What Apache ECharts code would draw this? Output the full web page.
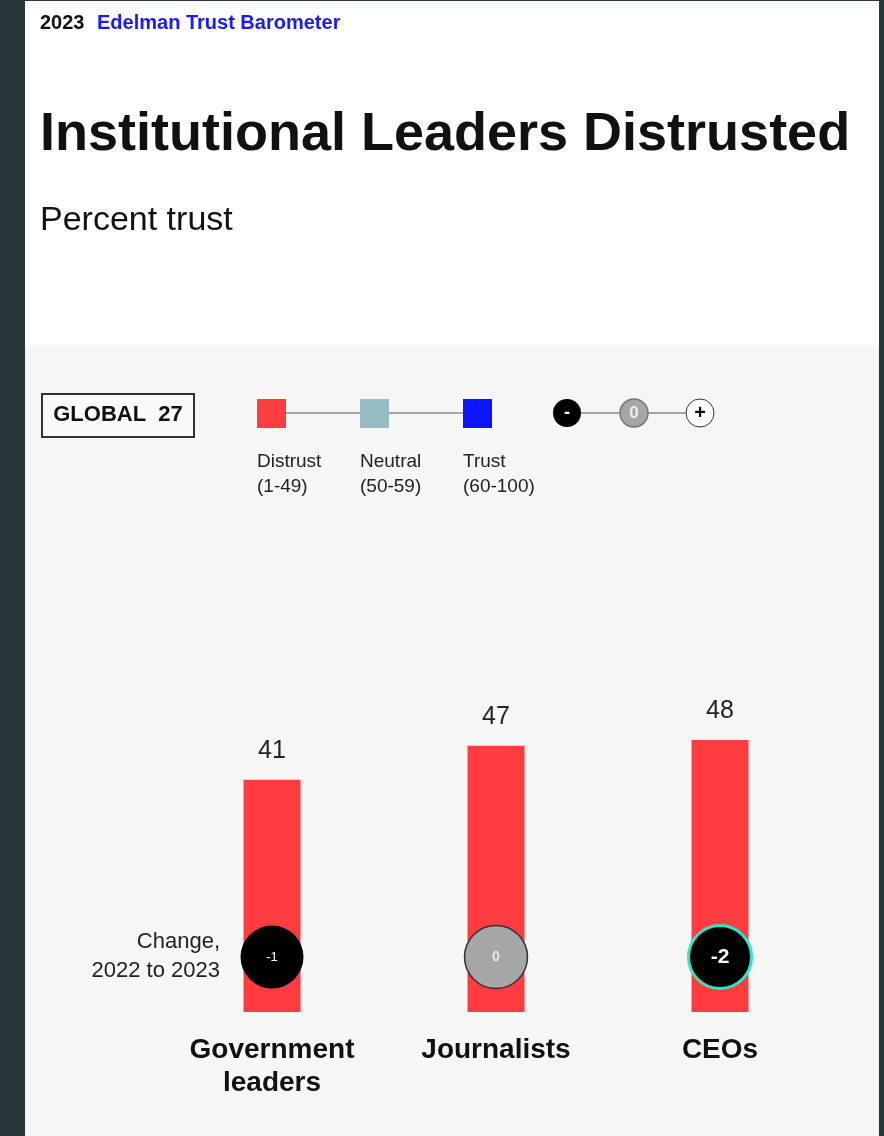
<!DOCTYPE html>
<html>
<head>
<meta charset="utf-8">
<title>Institutional Leaders Distrusted</title>
<script src="https://cdn.jsdelivr.net/npm/echarts@6/dist/echarts.min.js"></script>
<style>
  html, body { margin: 0; padding: 0; background: #273739; }
  #chart { width: 884px; height: 1136px; }
</style>
</head>
<body>
<div id="chart"></div>
<script type="text/javascript">
// data
var categories = ['Government\nleaders', 'Journalists', 'CEOs'];
var trustValues = [41, 47, 48];
var changeValues = [-1, 0, -2];
var legendNames = ['Distrust', 'Neutral', 'Trust'];
var legendRanges = ['(1-49)', '(50-59)', '(60-100)'];

var FONT = '"Liberation Sans", Arial, sans-serif';
var RED = '#ff3c40';
var CHANGE_ROW = 9.7;   // where the change circles sit on the value axis

var chart = echarts.init(document.getElementById('chart'));

// change circles: black = drop, grey = no change, teal ring marks the biggest drop
function changeItem(v, i) {
    var item = { value: [categories[i], CHANGE_ROW], change: v };
    if (v === 0) {
        item.itemStyle = { color: '#a6a6a6', borderColor: '#333', borderWidth: 1.5, opacity: 1 };
        item.label = { color: '#e6e6e6', fontSize: 14, fontWeight: 'bold' };
    } else if (v <= -2) {
        item.itemStyle = { color: '#000', borderColor: '#2ee6c4', borderWidth: 3, opacity: 1 };
        item.label = { color: '#fff', fontSize: 21, fontWeight: 'bold' };
    } else {
        item.itemStyle = { color: '#000', opacity: 1 };
        item.label = { color: '#fff', fontSize: 13 };
    }
    return item;
}

var legendColors = [RED, '#97bcc3', '#0a14ff'];
var legendX = [257, 360, 463];
var graphics = [
    // page backgrounds
    { type: 'rect', shape: { x: 25, y: 1, width: 854, height: 345 }, style: { fill: '#ffffff' }, silent: true, z: -10 },
    { type: 'rect', shape: { x: 25, y: 345, width: 854, height: 791 }, style: { fill: '#f6f6f6' }, silent: true, z: -10 },
    // header
    { type: 'text', left: 40, top: 13, style: { text: '2023', font: 'bold 20px ' + FONT, fill: '#111' } },
    { type: 'text', left: 97, top: 13, style: { text: 'Edelman Trust Barometer', font: 'bold 20px ' + FONT, fill: '#1a1aff' } },
    { type: 'text', left: 40, top: 108, style: { text: 'Institutional Leaders Distrusted', font: 'bold 54px ' + FONT, fill: '#111' } },
    { type: 'text', left: 40, top: 204, style: { text: 'Percent trust', font: '34px ' + FONT, fill: '#111' } },
    // GLOBAL 27 box
    { type: 'rect', shape: { x: 42, y: 394, width: 152, height: 43 }, style: { fill: '#fafafa', stroke: '#333', lineWidth: 2 } },
    { type: 'text', x: 118, y: 415, style: { text: 'GLOBAL  27', font: 'bold 22px ' + FONT, fill: '#111', align: 'center', verticalAlign: 'middle' } },
    // colour scale legend
    { type: 'line', shape: { x1: 285, y1: 413, x2: 463, y2: 413 }, style: { stroke: '#555', lineWidth: 1 } },
    // change legend
    { type: 'line', shape: { x1: 567, y1: 413, x2: 700, y2: 413 }, style: { stroke: '#555', lineWidth: 1 } },
    { type: 'circle', shape: { cx: 567, cy: 413, r: 14 }, style: { fill: '#000' } },
    { type: 'text', x: 567, y: 413, style: { text: '-', font: 'bold 18px ' + FONT, fill: '#fff', align: 'center', verticalAlign: 'middle' } },
    { type: 'circle', shape: { cx: 634, cy: 413, r: 14 }, style: { fill: '#a6a6a6', stroke: '#777', lineWidth: 1.5 } },
    { type: 'text', x: 634, y: 413, style: { text: '0', font: 'bold 17px ' + FONT, fill: '#eee', align: 'center', verticalAlign: 'middle' } },
    { type: 'circle', shape: { cx: 700, cy: 413, r: 14 }, style: { fill: '#fff', stroke: '#333', lineWidth: 1 } },
    { type: 'text', x: 700, y: 413, style: { text: '+', font: 'bold 20px ' + FONT, fill: '#111', align: 'center', verticalAlign: 'middle' } },
    // change caption
    { type: 'text', x: 220, y: 956, style: { text: 'Change,\n2022 to 2023', font: '22px ' + FONT, fill: '#222', align: 'right', verticalAlign: 'middle', lineHeight: 29 } }
];
legendNames.forEach(function (name, i) {
    graphics.push({ type: 'rect', shape: { x: legendX[i], y: 399, width: 29, height: 29 }, style: { fill: legendColors[i] } });
    graphics.push({ type: 'text', left: legendX[i], top: 449, style: { text: name + '\n' + legendRanges[i], font: '19px ' + FONT, fill: '#222', lineHeight: 25 } });
});

var option = {
    backgroundColor: 'transparent',
    animation: false,
    textStyle: { fontFamily: FONT },
    grid: { left: 160, right: 52, top: 672, bottom: 124 },
    xAxis: {
        type: 'category',
        data: categories,
        axisLine: { show: false },
        axisTick: { show: false },
        axisLabel: { fontSize: 28, fontWeight: 'bold', color: '#111', margin: 22, lineHeight: 33 }
    },
    yAxis: {
        type: 'value',
        min: 0,
        max: 60,
        show: false,
        splitLine: { show: false }
    },
    graphic: graphics,
    series: [
        {
            name: 'Percent trust',
            type: 'bar',
            data: trustValues,
            barWidth: 57,
            itemStyle: { color: RED },
            label: { show: true, position: 'top', distance: 16, fontSize: 25, color: '#222' }
        },
        {
            name: 'Change',
            type: 'scatter',
            symbol: 'circle',
            symbolSize: 63,
            data: changeValues.map(changeItem),
            label: {
                show: true,
                position: 'inside',
                formatter: function (p) { return String(p.data.change); }
            },
            z: 5
        }
    ]
};
chart.setOption(option);
</script>
</body>
</html>
